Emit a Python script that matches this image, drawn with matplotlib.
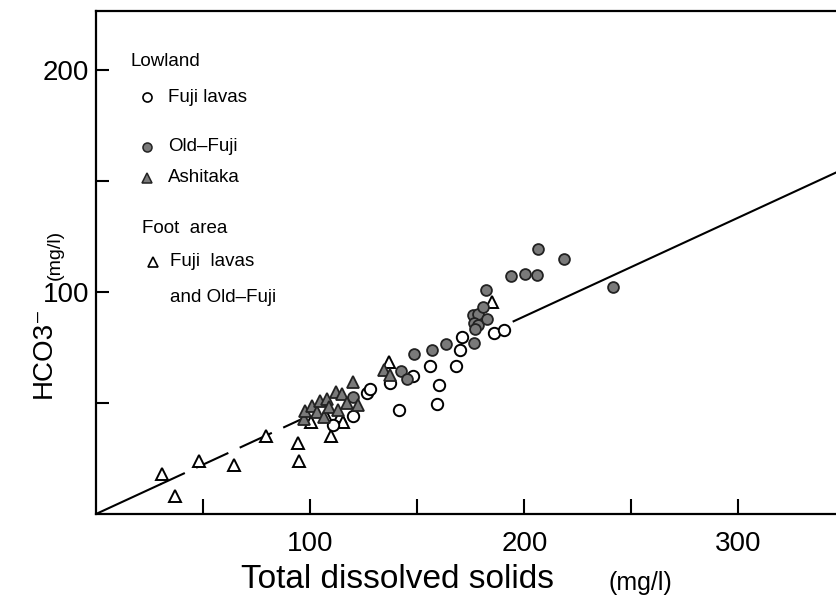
import numpy as np
import matplotlib
matplotlib.use('Agg')
import matplotlib.pyplot as plt

plt.rcParams['font.family'] = ['Liberation Sans Narrow', 'Liberation Sans', 'DejaVu Sans']

# 低地 Fuji lavas（白丸）
fuji_tds = [110.5, 120, 126.5, 128, 137.5, 141.5, 148, 156, 160, 159, 168, 170, 171, 186, 190.5]
fuji_hco3 = [40, 44, 54.5, 56.5, 59, 47, 62, 66.5, 58, 49.5, 66.5, 74, 79.5, 81.5, 83]

# 低地 Old-Fuji（灰丸）
old_tds = [120, 142.5, 145, 148.5, 157, 163.5, 176.5, 176, 178.5, 176.5, 178.5, 177, 182.5,
           180.5, 182, 194, 200.5, 206, 206.5, 218.5, 241.5]
old_hco3 = [52.5, 64.5, 61, 72, 74, 76.5, 77, 89.5, 90, 86, 85, 83.5, 88,
            93, 101, 107, 108, 107.5, 119.5, 115, 102]

# 低地 Ashitaka（灰三角）
ash_tds = [97, 97.5, 101, 103, 104.5, 106.5, 108, 109, 112, 113, 115, 117, 120, 122.5, 134.5, 137.5]
ash_hco3 = [43, 46.5, 48.5, 46, 51, 43.5, 52, 48, 55, 47, 54, 50, 59.5, 49, 65, 62.5]

# 山麓 Fuji lavas and Old-Fuji（白三角）
foot_tds = [31, 37, 48, 64.5, 79.5, 94.5, 95, 100.5, 107.5, 109.5, 114, 115.5, 137, 185]
foot_hco3 = [18, 8, 24, 22, 35, 32, 24, 41.5, 44, 35, 44, 41.5, 68.5, 95.5]

# 原点を通る回帰直線
slope = 0.445
solid_parts = [(0, 30), (195, 346)]
dashed_part = (30, 97)

x_ticks = [50, 100, 150, 200, 250, 300]
x_ticklabels = ['', '100', '', '200', '', '300']
y_ticks = [50, 100, 150, 200]
y_ticklabels = ['', '100', '', '200']

gray = '#7a7a7a'

fig = plt.figure(figsize=(8.37, 6.06), dpi=100)
fig.patch.set_facecolor('white')
ax = fig.add_axes([96 / 837, 92 / 606, 741 / 837, 503 / 606])

for a, b in solid_parts:
    xs = np.array([a, b])
    ax.plot(xs, slope * xs, color='black', lw=1.5, zorder=1)
xs = np.array(dashed_part)
ax.plot(xs, slope * xs, color='black', lw=1.5, linestyle=(4, (17, 6)), zorder=1)

ax.plot(foot_tds, foot_hco3, linestyle='none', marker='^', ms=8.5, mfc='white', mec='black', mew=1.4, zorder=3)
ax.plot(fuji_tds, fuji_hco3, linestyle='none', marker='o', ms=8.2, mfc='white', mec='black', mew=1.4, zorder=3)
ax.plot(old_tds, old_hco3, linestyle='none', marker='o', ms=7.8, mfc=gray, mec='#222222', mew=1.3, zorder=4)
ax.plot(ash_tds, ash_hco3, linestyle='none', marker='^', ms=8.5, mfc=gray, mec='#222222', mew=1.3, zorder=4)

ax.set_xlim(0, 346)
ax.set_ylim(0, 226.5)
ax.set_xticks(x_ticks)
ax.set_xticklabels(x_ticklabels)
ax.set_yticks(y_ticks)
ax.set_yticklabels(y_ticklabels)
ax.tick_params(axis='x', direction='in', length=11, width=1.5, pad=12, labelsize=20)
ax.tick_params(axis='y', direction='in', length=9, width=1.5, pad=5, labelsize=20)
for s in ['left', 'top', 'bottom']:
    ax.spines[s].set_linewidth(1.6)
ax.spines['right'].set_visible(False)

# 凡例（グループ見出し付き）
fs = 13.5
ax.text(0.047, 0.899, 'Lowland', transform=ax.transAxes, fontsize=fs, va='center', ha='left')
ax.plot([0.069], [0.829], transform=ax.transAxes, marker='o', ms=6.5, mfc='white', mec='black', mew=1.2)
ax.text(0.097, 0.829, 'Fuji lavas', transform=ax.transAxes, fontsize=fs, va='center', ha='left')
ax.plot([0.069], [0.730], transform=ax.transAxes, marker='o', ms=6.5, mfc=gray, mec='#222222', mew=1.1)
ax.text(0.097, 0.730, 'Old\u2013Fuji', transform=ax.transAxes, fontsize=fs, va='center', ha='left')
ax.plot([0.069], [0.668], transform=ax.transAxes, marker='^', ms=7, mfc=gray, mec='#222222', mew=1.1)
ax.text(0.097, 0.668, 'Ashitaka', transform=ax.transAxes, fontsize=fs, va='center', ha='left')
ax.text(0.062, 0.567, 'Foot  area', transform=ax.transAxes, fontsize=fs, va='center', ha='left')
ax.plot([0.077], [0.501], transform=ax.transAxes, marker='^', ms=7.5, mfc='white', mec='black', mew=1.2)
ax.text(0.100, 0.501, 'Fuji  lavas', transform=ax.transAxes, fontsize=fs, va='center', ha='left')
ax.text(0.100, 0.431, 'and Old\u2013Fuji', transform=ax.transAxes, fontsize=fs, va='center', ha='left')

# 軸ラベル
fig.text(398 / 837, 1 - 580 / 606, 'Total dissolved solids', fontsize=24, ha='center', va='center')
fig.text(640 / 837, 1 - 583 / 606, '(mg/l)', fontsize=18, ha='center', va='center')
fig.text(44 / 837, 1 - 352 / 606, 'HCO3\u207b', fontsize=20, rotation=90, ha='center', va='center')
fig.text(55 / 837, 1 - 255 / 606, '(mg/l)', fontsize=14, rotation=90, ha='center', va='center')

fig.savefig('out.png', dpi=100, facecolor='white')
